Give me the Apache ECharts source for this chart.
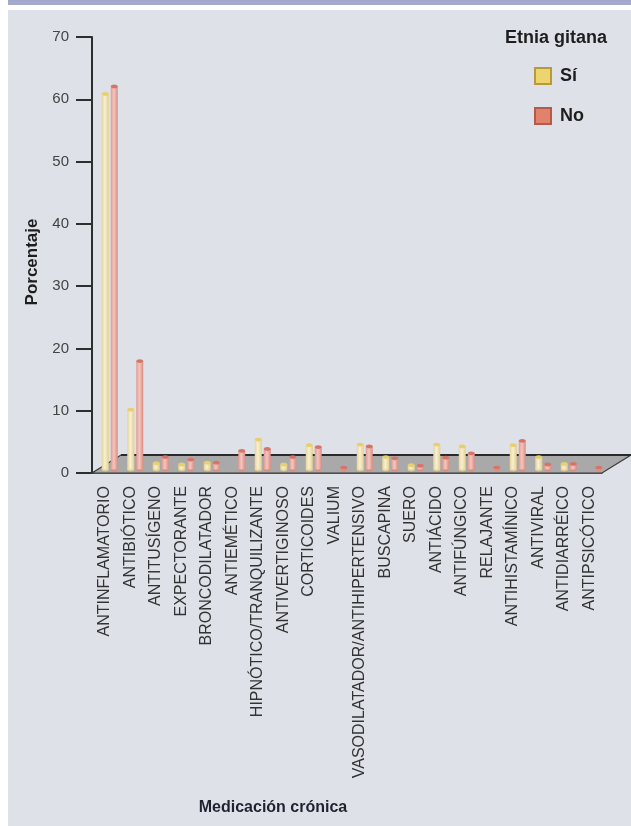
<!DOCTYPE html>
<html>
<head>
<meta charset="utf-8">
<script src="https://cdn.jsdelivr.net/npm/echarts@6/dist/echarts.min.js"></script>
<style>
  html, body { margin: 0; padding: 0; background: #ffffff; }
  #chart { width: 631px; height: 826px; }
</style>
</head>
<body>
<div id="chart"></div>
<script>
// Medicación crónica por etnia gitana (porcentaje)
var categories = [
  'ANTINFLAMATORIO', 'ANTIBIÓTICO', 'ANTITUSÍGENO', 'EXPECTORANTE', 'BRONCODILATADOR',
  'ANTIEMÉTICO', 'HIPNÓTICO/TRANQUILIZANTE', 'ANTIVERTIGINOSO', 'CORTICOIDES', 'VALIUM',
  'VASODILATADOR/ANTIHIPERTENSIVO', 'BUSCAPINA', 'SUERO', 'ANTIÁCIDO', 'ANTIFÚNGICO',
  'RELAJANTE', 'ANTIHISTAMÍNICO', 'ANTIVIRAL', 'ANTIDIARRÉICO', 'ANTIPSICÓTICO'
];
var valuesSi = [60.3, 9.6, 1.0, 0.8, 1.1, 0, 4.8, 0.8, 3.9, 0, 4.0, 2.0, 0.7, 4.0, 3.7, 0, 3.9, 2.0, 0.9, 0];
var valuesNo = [61.5, 17.4, 2.0, 1.6, 1.1, 3.0, 3.3, 2.0, 3.6, 0.3, 3.7, 1.8, 0.6, 1.9, 2.6, 0.3, 4.6, 0.8, 0.9, 0.3];
var yTicks = [0, 10, 20, 30, 40, 50, 60, 70];

var FONT = '"Liberation Sans", Arial, Helvetica, sans-serif';
var BAR_W = 7;        // cylinder width in px
var LIFT = 3.5;       // cylinders stand slightly behind the floor's front edge
var DEPTH_X = 29, DEPTH_Y = -18;   // oblique depth of the floor

function cylinder(offset, body, cap) {
  return function (params, api) {
    var v = api.value(1);
    if (!(v > 0)) return;
    var base = api.coord([api.value(0), 0]);
    var top = api.coord([api.value(0), v]);
    var cx = base[0] + offset;
    var x = cx - BAR_W / 2;
    var y0 = base[1] - LIFT;
    var y1 = top[1] - LIFT;
    var grad = {
      type: 'linear', x: 0, y: 0, x2: 1, y2: 0,
      colorStops: [
        { offset: 0, color: body[0] },
        { offset: 0.45, color: body[1] },
        { offset: 1, color: body[2] }
      ]
    };
    return {
      type: 'group',
      children: [
        { type: 'ellipse', shape: { cx: cx, cy: y0, rx: BAR_W / 2, ry: 1.8 }, style: { fill: body[2] } },
        { type: 'rect', shape: { x: x, y: y1, width: BAR_W, height: Math.max(0, y0 - y1) }, style: { fill: grad } },
        { type: 'ellipse', shape: { cx: cx, cy: y1, rx: BAR_W / 2, ry: 1.9 }, style: { fill: cap } }
      ]
    };
  };
}

function floor(params, api) {
  var bw = api.size([1, 0])[0];
  var p0 = api.coord([0, 0]);
  var pN = api.coord([categories.length - 1, 0]);
  var xl = p0[0] - bw / 2, xr = pN[0] + bw / 2, y = p0[1];
  var pts = [[xl, y], [xr, y], [xr + DEPTH_X, y + DEPTH_Y], [xl + DEPTH_X, y + DEPTH_Y]];
  return {
    type: 'group',
    children: [
      { type: 'polygon', shape: { points: pts }, style: { fill: '#a9a9a9', stroke: '#3a3a3a', lineWidth: 1.2 } },
      { type: 'line', shape: { x1: xl + DEPTH_X, y1: y + DEPTH_Y, x2: xr + DEPTH_X, y2: y + DEPTH_Y }, style: { stroke: '#2a2a2a', lineWidth: 2 } }
    ]
  };
}

var chart = echarts.init(document.getElementById('chart'), null, { renderer: 'canvas' });
chart.setOption({
  animation: false,
  textStyle: { fontFamily: FONT },
  graphic: [
    { type: 'rect', z: -10, shape: { x: 8, y: 0, width: 623, height: 5 }, style: { fill: '#a4a9cd' } },
    { type: 'rect', z: -10, shape: { x: 8, y: 10, width: 623, height: 816 }, style: { fill: '#dfe1e9' } },
    { type: 'text', x: 556, y: 38, z: 5,
      style: { text: 'Etnia gitana', font: 'bold 18px ' + FONT, fill: '#1e1e1e', align: 'center', verticalAlign: 'middle' } },
    { type: 'text', x: 32, y: 262, rotation: Math.PI / 2, z: 5,
      style: { text: 'Porcentaje', font: 'bold 17px ' + FONT, fill: '#1e1e1e', align: 'center', verticalAlign: 'middle' } },
    { type: 'text', x: 273, y: 808, z: 5,
      style: { text: 'Medicación crónica', font: 'bold 16px ' + FONT, fill: '#1e2330', align: 'center', verticalAlign: 'middle' } }
  ],
  legend: {
    data: ['Sí', 'No'],
    orient: 'vertical',
    left: 534,
    top: 67,
    padding: 0,
    itemGap: 22,
    itemWidth: 16,
    itemHeight: 16,
    icon: 'rect',
    textStyle: { fontFamily: FONT, fontWeight: 'bold', fontSize: 18, color: '#1e1e1e', padding: [0, 0, 0, 4] }
  },
  grid: { left: 92, right: 29, top: 37, bottom: 353, containLabel: false },
  xAxis: {
    type: 'category',
    data: categories,
    boundaryGap: true,
    axisLine: { lineStyle: { color: '#3a3a3a', width: 1.5 } },
    axisTick: { length: 6, lineStyle: { color: '#555' } },
    axisLabel: { rotate: 90, interval: 0, margin: 13, fontSize: 16, color: '#333', fontFamily: FONT }
  },
  yAxis: {
    type: 'value',
    min: yTicks[0],
    max: yTicks[yTicks.length - 1],
    interval: 10,
    axisLine: { show: true, lineStyle: { color: '#2e2e2e', width: 2 } },
    axisTick: { show: true, length: 16, lineStyle: { color: '#2e2e2e', width: 2 } },
    axisLabel: { margin: 23, fontSize: 15, color: '#444', fontFamily: FONT },
    splitLine: { show: false }
  },
  series: [
    {
      name: 'floor', type: 'custom', renderItem: floor, data: [[0, 0]], z: 1, silent: true,
      clip: false, tooltip: { show: false }
    },
    {
      name: 'Sí', type: 'custom', z: 3, clip: false,
      itemStyle: { color: '#ecd46e', borderColor: '#b89a3c', borderWidth: 1 },
      renderItem: cylinder(0.5, ['#e4d49a', '#f8f0cf', '#e2cf8f'], '#e6cf6e'),
      data: valuesSi.map(function (v, i) { return [i, v]; })
    },
    {
      name: 'No', type: 'custom', z: 3, clip: false,
      itemStyle: { color: '#e0826c', borderColor: '#b35a48', borderWidth: 1 },
      renderItem: cylinder(9.5, ['#e09a90', '#f3c6be', '#d98c82'], '#d67468'),
      data: valuesNo.map(function (v, i) { return [i, v]; })
    }
  ]
});
</script>
</body>
</html>
